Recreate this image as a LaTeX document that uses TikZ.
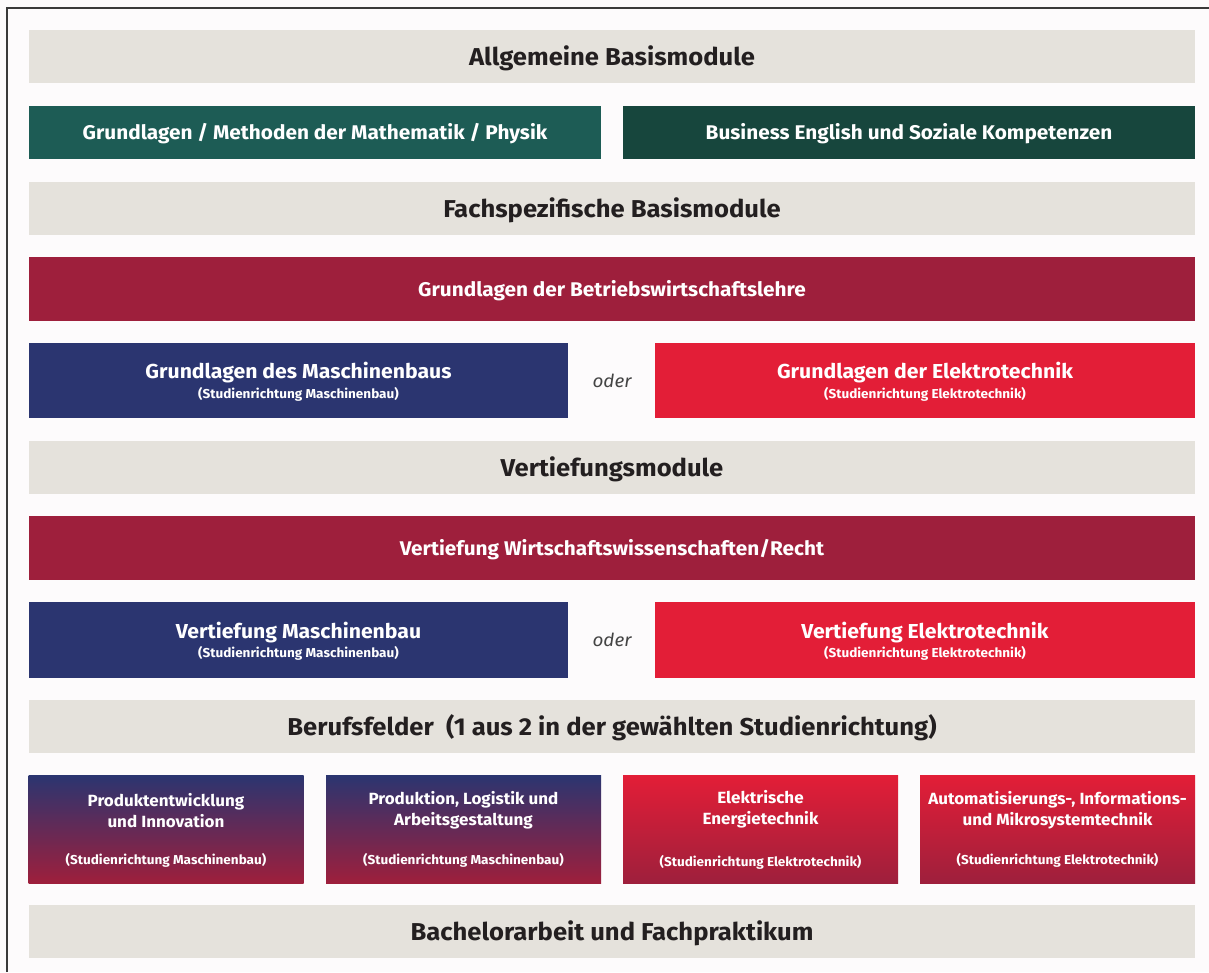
\documentclass[tikz,border=0pt]{standalone}
\usepackage{fontspec}
\setmainfont{Fira Sans}[FakeStretch=1.05]
\definecolor{bgc}{HTML}{FDFBFC}
\definecolor{greybar}{HTML}{E5E2DC}
\definecolor{txtdark}{HTML}{231F20}
\definecolor{greenA}{HTML}{1D5C55}
\definecolor{greenB}{HTML}{17463D}
\definecolor{wine}{HTML}{9E1F3C}
\definecolor{navy}{HTML}{2B3570}
\definecolor{redE}{HTML}{E31E37}
\definecolor{framec}{HTML}{3A3A3A}
\definecolor{oderc}{HTML}{444444}
\tikzset{
  box/.style={inner sep=0pt, outer sep=0pt, align=center},
  greyrow/.style={box, fill=greybar, minimum width=1166pt, minimum height=53pt},
  greytxt/.style={text=txtdark, font=\fontsize{24.4}{28}\selectfont\bfseries, inner sep=0pt},
  colrow/.style={box, text=white, font=\fontsize{19.8}{23}\selectfont\bfseries},
  coltxt/.style={text=white, font=\fontsize{19.8}{23}\selectfont\bfseries, inner sep=0pt},
  bigtitle/.style={text=white, font=\fontsize{20.2}{22}\selectfont\bfseries, inner sep=0pt},
  subt/.style={text=white, font=\fontsize{12.9}{14}\selectfont\bfseries, inner sep=0pt},
  fieldbox/.style={box, minimum width=275pt, minimum height=108pt},
  fieldtxt/.style={text=white, font=\fontsize{16.2}{21}\selectfont\bfseries, align=center, inner sep=0pt},
  odertxt/.style={text=oderc, font=\fontsize{18}{20}\selectfont\itshape, inner sep=0pt}
}
\begin{document}
\begin{tikzpicture}[x=1pt,y=-1pt]
\useasboundingbox (0,0) rectangle (1209,972);
\fill[bgc] (0,0) rectangle (1209,972);
\coordinate (fbl) at (7,972);
\coordinate (ftl) at (7,8);
\coordinate (ftr) at (1209,8);
\draw[framec, line width=1.5pt] (fbl) -- (ftl) -- (ftr);

\node[greyrow] (allg) at (612,56.5) {};
\node[greytxt] (allgt) at (612,58) {Allgemeine Basismodule};
\node[colrow, fill=greenA, minimum width=572pt, minimum height=53pt] (math) at (315,132.5) {};
\node[coltxt] (matht) at (315,134) {Grundlagen / Methoden der Mathematik / Physik};
\node[colrow, fill=greenB, minimum width=572pt, minimum height=53pt] (engl) at (909,132.5) {};
\node[coltxt] (englt) at (909,134) {Business English und Soziale Kompetenzen};
\node[greyrow] (fach) at (612,208.5) {};
\node[greytxt] (facht) at (612,210) {Fachspezifische Basismodule};
\node[colrow, fill=wine, minimum width=1166pt, minimum height=64pt] (bwl) at (612,289) {};
\node[coltxt] (bwlt) at (612,290.5) {Grundlagen der Betriebswirtschaftslehre};

\node[box, fill=navy, minimum width=539pt, minimum height=75pt] (gmb) at (298.5,380.5) {};
\node[bigtitle] (gmbt) at (298.5,373) {Grundlagen des Maschinenbaus};
\node[subt] (gmbs) at (298.5,394) {(Studienrichtung Maschinenbau)};
\node[odertxt] (oder1) at (612,381) {oder};
\node[box, fill=redE, minimum width=540pt, minimum height=75pt] (get) at (925,380.5) {};
\node[bigtitle] (gett) at (925,373) {Grundlagen der Elektrotechnik};
\node[subt] (gets) at (925,394) {(Studienrichtung Elektrotechnik)};

\node[greyrow] (vert) at (612,467.5) {};
\node[greytxt] (vertt) at (612,469) {Vertiefungsmodule};
\node[colrow, fill=wine, minimum width=1166pt, minimum height=64pt] (wiwi) at (612,548) {};
\node[coltxt] (wiwit) at (612,549.5) {Vertiefung Wirtschaftswissenschaften/Recht};

\node[box, fill=navy, minimum width=539pt, minimum height=76pt] (vmb) at (298.5,640) {};
\node[bigtitle] (vmbt) at (298.5,632.5) {Vertiefung Maschinenbau};
\node[subt] (vmbs) at (298.5,653.5) {(Studienrichtung Maschinenbau)};
\node[odertxt] (oder2) at (612,640) {oder};
\node[box, fill=redE, minimum width=540pt, minimum height=76pt] (vet) at (925,640) {};
\node[bigtitle] (vett) at (925,632.5) {Vertiefung Elektrotechnik};
\node[subt] (vets) at (925,653.5) {(Studienrichtung Elektrotechnik)};

\node[greyrow] (beruf) at (612,726.5) {};
\node[greytxt] (beruft) at (612,728) {Berufsfelder\ \ (1 aus 2 in der gewählten Studienrichtung)};

\node[fieldbox, top color=navy, bottom color=wine] (f1) at (166,829) {};
\node[fieldtxt] (f1t) at (166,810.5) {Produktentwicklung\\und Innovation};
\node[subt] (f1s) at (166,860) {(Studienrichtung Maschinenbau)};
\node[fieldbox, top color=navy, bottom color=wine] (f2) at (463.5,829) {};
\node[fieldtxt] (f2t) at (463.5,810.5) {Produktion, Logistik und\\Arbeitsgestaltung};
\node[subt] (f2s) at (463.5,860) {(Studienrichtung Maschinenbau)};
\node[fieldbox, top color=redE, bottom color=wine] (f3) at (760.5,829) {};
\node[fieldtxt] (f3t) at (760.5,809) {Elektrische\\Energietechnik};
\node[subt] (f3s) at (760.5,862) {(Studienrichtung Elektrotechnik)};
\node[fieldbox, top color=redE, bottom color=wine] (f4) at (1057.5,829) {};
\node[fieldtxt] (f4t) at (1057.5,810.5) {Automatisierungs-, Informations-\\und Mikrosystemtechnik};
\node[subt] (f4s) at (1057.5,860) {(Studienrichtung Elektrotechnik)};

\node[greyrow] (bach) at (612,931.5) {};
\node[greytxt] (bacht) at (612,933) {Bachelorarbeit und Fachpraktikum};
\end{tikzpicture}
\end{document}
